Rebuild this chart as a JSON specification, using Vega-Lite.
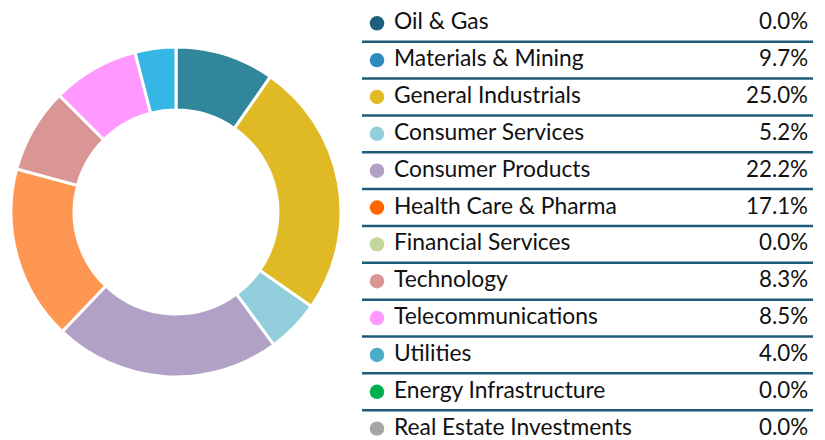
{
  "$schema": "https://vega.github.io/schema/vega-lite/v6.json",
  "padding": 0,
  "config": {"view": {"stroke": null}, "concat": {"spacing": 0}},
  "datasets": {
    "sectors": [
      {"idx": 0, "sector": "Oil & Gas", "pct": 0.0},
      {"idx": 1, "sector": "Materials & Mining", "pct": 0.097},
      {"idx": 2, "sector": "General Industrials", "pct": 0.25},
      {"idx": 3, "sector": "Consumer Services", "pct": 0.052},
      {"idx": 4, "sector": "Consumer Products", "pct": 0.222},
      {"idx": 5, "sector": "Health Care & Pharma", "pct": 0.171},
      {"idx": 6, "sector": "Financial Services", "pct": 0.0},
      {"idx": 7, "sector": "Technology", "pct": 0.083},
      {"idx": 8, "sector": "Telecommunications", "pct": 0.085},
      {"idx": 9, "sector": "Utilities", "pct": 0.04},
      {"idx": 10, "sector": "Energy Infrastructure", "pct": 0.0},
      {"idx": 11, "sector": "Real Estate Investments", "pct": 0.0}
    ]
  },
  "resolve": {"scale": {"color": "independent"}},
  "hconcat": [
    {
      "width": 352,
      "height": 424,
      "data": {"name": "sectors"},
      "transform": [{"filter": "datum.pct > 0"}],
      "mark": {"type": "arc", "outerRadius": 165, "innerRadius": 102, "stroke": "#ffffff", "strokeWidth": 3},
      "encoding": {
        "theta": {"field": "pct", "type": "quantitative", "stack": true},
        "order": {"field": "idx", "type": "quantitative"},
        "color": {
          "field": "sector", "type": "nominal", "legend": null,
          "scale": {
            "domain": ["Materials & Mining", "General Industrials", "Consumer Services", "Consumer Products", "Health Care & Pharma", "Technology", "Telecommunications", "Utilities"],
            "range": ["#31869b", "#e0ba24", "#92cddc", "#b2a1c7", "#fd9752", "#d99694", "#ff99ff", "#35b6e5"]
          }
        }
      }
    },
    {
      "width": 473,
      "height": 440,
      "data": {"name": "sectors"},
      "layer": [
        {
          "transform": [{"filter": "datum.idx < 11"}],
          "mark": {"type": "rule", "color": "#1f5a7a", "strokeWidth": 2.5},
          "encoding": {
            "y": {"field": "sector", "type": "ordinal", "sort": {"field": "idx"}, "bandPosition": 1, "axis": null,
                  "scale": {"range": [4.85, 447.05], "paddingInner": 0, "paddingOuter": 0}},
            "x": {"value": 10},
            "x2": {"value": 461}
          }
        },
        {
          "mark": {"type": "circle", "size": 210, "opacity": 1},
          "encoding": {
            "y": {"field": "sector", "type": "ordinal", "sort": {"field": "idx"}, "axis": null},
            "x": {"value": 25},
            "color": {
              "field": "sector", "type": "nominal", "legend": null,
              "scale": {
                "domain": ["Oil & Gas", "Materials & Mining", "General Industrials", "Consumer Services", "Consumer Products", "Health Care & Pharma", "Financial Services", "Technology", "Telecommunications", "Utilities", "Energy Infrastructure", "Real Estate Investments"],
                "range": ["#1f5f7e", "#2e8bc0", "#e1ba24", "#92cddc", "#b2a1c7", "#ff6600", "#c3d69b", "#d99694", "#ff99ff", "#4bacc6", "#00b050", "#a6a6a6"]
              }
            }
          }
        },
        {
          "mark": {"type": "text", "align": "left", "baseline": "alphabetic", "dy": 6, "fontSize": 22.8, "font": "Lato", "color": "#111111"},
          "encoding": {
            "y": {"field": "sector", "type": "ordinal", "sort": {"field": "idx"}, "axis": null},
            "x": {"value": 42},
            "text": {"field": "sector"}
          }
        },
        {
          "mark": {"type": "text", "align": "right", "baseline": "alphabetic", "dy": 6, "fontSize": 22.3, "font": "Lato", "color": "#111111"},
          "encoding": {
            "y": {"field": "sector", "type": "ordinal", "sort": {"field": "idx"}, "axis": null},
            "x": {"value": 456},
            "text": {"field": "pct", "format": ".1%"}
          }
        }
      ]
    }
  ]
}
